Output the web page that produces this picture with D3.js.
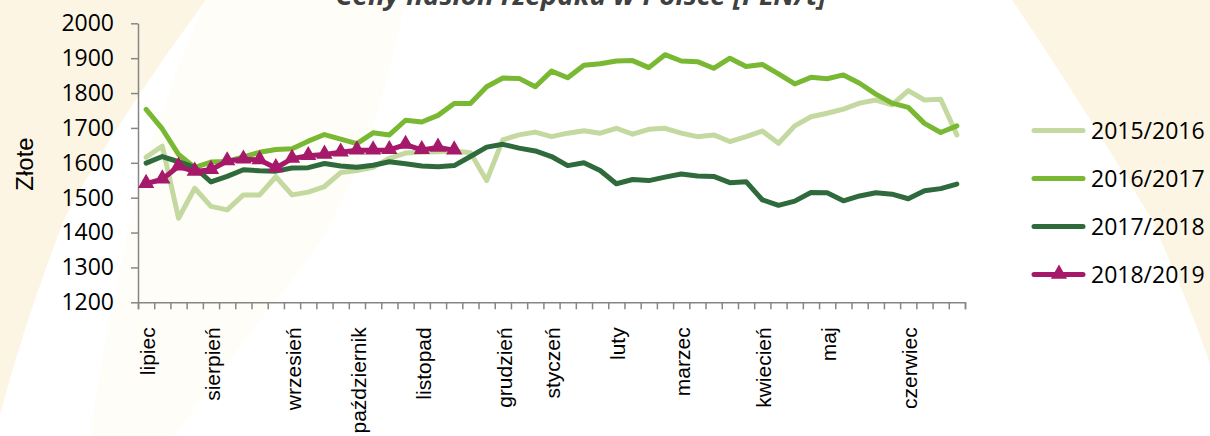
<!DOCTYPE html>
<html>
<head>
<meta charset="utf-8">
<script src="https://cdn.jsdelivr.net/npm/d3@7"></script>
<style>
  body { margin: 0; background: #fff; }
  svg { display: block; }
</style>
</head>
<body>
<script>
// weekly rapeseed prices, PLN/t
const weekLabels = ['lipiec', '', '', '', 'sierpień', '', '', '', '', 'wrzesień', '', '', '',
  'październik', '', '', '', 'listopad', '', '', '', '', 'grudzień', '', '', 'styczeń', '', '', '',
  'luty', '', '', '', 'marzec', '', '', '', '', 'kwiecień', '', '', '', 'maj', '', '', '', '',
  'czerwiec', '', '', '']

const s2015 = [1616, 1648, 1441, 1527, 1475, 1465, 1508, 1508, 1560, 1508,
  1516, 1532, 1572, 1578, 1587, 1613, 1628, 1630, 1632, 1634,
  1629, 1549, 1666, 1680, 1688, 1675, 1685, 1692, 1685, 1699,
  1682, 1696, 1699, 1685, 1675, 1680, 1661, 1675, 1691, 1656,
  1706, 1732, 1742, 1754, 1771, 1780, 1766, 1807, 1780, 1782, 1680]
const s2016 = [1753, 1697, 1624, 1587, 1602, 1604, 1617, 1630, 1638, 1640,
  1662, 1681, 1668, 1655, 1686, 1680, 1722, 1717, 1736, 1770,
  1770, 1818, 1843, 1842, 1818, 1863, 1844, 1880, 1884, 1892,
  1893, 1873, 1910, 1892, 1890, 1871, 1900, 1876, 1882, 1855,
  1826, 1845, 1841, 1852, 1828, 1797, 1771, 1759, 1713, 1687, 1706]
const s2017 = [1599, 1618, 1603, 1587, 1545, 1561, 1580, 1577, 1576, 1585,
  1586, 1598, 1591, 1587, 1593, 1603, 1597, 1591, 1589, 1592,
  1618, 1645, 1653, 1642, 1634, 1618, 1592, 1600, 1578, 1540,
  1552, 1549, 1559, 1568, 1562, 1561, 1543, 1546, 1494, 1478,
  1490, 1515, 1514, 1491, 1505, 1514, 1510, 1497, 1520, 1526, 1539]
const s2018 = [1540, 1553, 1590, 1575, 1580, 1605, 1610, 1608, 1585, 1612,
  1620, 1624, 1630, 1636, 1636, 1637, 1652, 1637, 1644, 1636]

const seriesNames = ['2015/2016', '2016/2017', '2017/2018', '2018/2019']
const yTicks = [1200, 1300, 1400, 1500, 1600, 1700, 1800, 1900, 2000]

var width = 1210,
    height = 436

var colors = ['#c4d9a0', '#78b832', '#2f6a3d', '#a6186a']
var allSeries = [s2015, s2016, s2017, s2018]

var svg = d3.select('body').append('svg')
    .attr('width', width)
    .attr('height', height)

// background decoration
svg.append('path')
    .attr('d', 'M0,0 L206,0 Q110,130 64,220 Q25,320 0,415 Z')
    .attr('fill', '#fdf5e3')
svg.append('path')
    .attr('d', 'M206,0 L405,0 Q370,180 300,270 Q220,370 175,436 L90,436 Q110,300 140,180 Q170,80 206,0 Z')
    .attr('fill', '#fffdf8')
svg.append('path')
    .attr('d', 'M1012,0 L1210,0 L1210,365 Q1200,330 1152,220 Q1080,100 1012,0 Z')
    .attr('fill', '#fdf5e3')

var x = d3.scaleBand()
    .domain(d3.range(weekLabels.length))
    .range([138, 965])
    .padding(0)

var xTick = d3.scaleLinear()
    .domain([0, weekLabels.length])
    .range([138, 965])

var y = d3.scaleLinear()
    .domain([1200, 2000])
    .range([302.3, 23.3])

var cx = i => x(i) + x.bandwidth() / 2

// axes
var gy = svg.append('g')
    .attr('transform', 'translate(138,0)')
    .call(d3.axisLeft(y).tickValues(yTicks).tickFormat(d3.format('d'))
        .tickSize(7).tickPadding(17).tickSizeOuter(0))
gy.selectAll('text')
    .style('font-family', '"Open Sans", sans-serif')
    .style('font-size', '23px')
    .attr('fill', '#000')

var gxTicks = svg.append('g')
    .attr('transform', 'translate(0,302.3)')
    .call(d3.axisBottom(xTick).tickValues(d3.range(weekLabels.length + 1)).tickSize(7).tickFormat(''))

var gxLabels = svg.append('g')
    .attr('transform', 'translate(0,302.3)')
    .call(d3.axisBottom(x).tickValues(d3.range(weekLabels.length).filter(i => weekLabels[i] !== ''))
        .tickSize(0).tickFormat(i => weekLabels[i]))
gxLabels.select('.domain').remove()
gxLabels.selectAll('text')
    .attr('transform', 'rotate(-90)')
    .attr('x', -25)
    .attr('y', 1.5)
    .attr('dy', '0.35em')
    .style('text-anchor', 'end')
    .style('font-family', '"Liberation Sans", Arial, sans-serif')
    .style('font-size', '21px')
    .attr('fill', '#000')

svg.selectAll('.domain, .tick line')
    .attr('stroke', '#868686')
    .attr('stroke-width', 1.5)

svg.append('text')
    .attr('transform', 'translate(33,164) rotate(-90)')
    .attr('text-anchor', 'middle')
    .style('font-family', '"Liberation Sans", Arial, sans-serif')
    .style('font-size', '24px')
    .text('Złote')

// lines
var line = d3.line()
    .x((d, i) => cx(i))
    .y(d => y(d))

allSeries.forEach((s, k) => {
    svg.append('path')
        .datum(s)
        .attr('d', line)
        .attr('fill', 'none')
        .attr('stroke', colors[k])
        .attr('stroke-width', 5)
        .attr('stroke-linejoin', 'round')
        .attr('stroke-linecap', 'round')
})

var tri = d3.symbol().type(d3.symbolTriangle).size(115)
svg.selectAll('.mk')
    .data(s2018).enter()
    .append('path')
    .attr('class', 'mk')
    .attr('d', tri)
    .attr('transform', (d, i) => 'translate(' + cx(i) + ',' + (y(d) - 0.5) + ')')
    .attr('fill', colors[3])

// legend
var lg = svg.append('g')
var rows = seriesNames.map((n, k) => ({name: n, color: colors[k], y: 130.5 + k * 48}))
lg.selectAll('line')
    .data(rows).enter()
    .append('line')
    .attr('x1', 1034).attr('x2', 1083)
    .attr('y1', d => d.y).attr('y2', d => d.y)
    .attr('stroke', d => d.color)
    .attr('stroke-width', 5)
    .attr('stroke-linecap', 'round')
lg.append('path')
    .attr('d', tri)
    .attr('transform', 'translate(1059,' + (rows[3].y - 0.5) + ')')
    .attr('fill', colors[3])
lg.selectAll('text')
    .data(rows).enter()
    .append('text')
    .attr('x', 1091)
    .attr('y', d => d.y)
    .attr('dy', '0.35em')
    .style('font-family', '"Open Sans", sans-serif')
    .style('font-size', '23px')
    .text(d => d.name)

// title, cut by the top edge
svg.append('text')
    .attr('x', 581)
    .attr('y', 5)
    .attr('text-anchor', 'middle')
    .attr('textLength', 491)
    .attr('lengthAdjust', 'spacingAndGlyphs')
    .style('font-family', '"Open Sans", sans-serif')
    .style('font-size', '26px')
    .style('font-weight', 'bold')
    .style('font-style', 'italic')
    .attr('fill', '#404040')
    .text('Ceny nasion rzepaku w Polsce [PLN/t]')
</script>
</body>
</html>
